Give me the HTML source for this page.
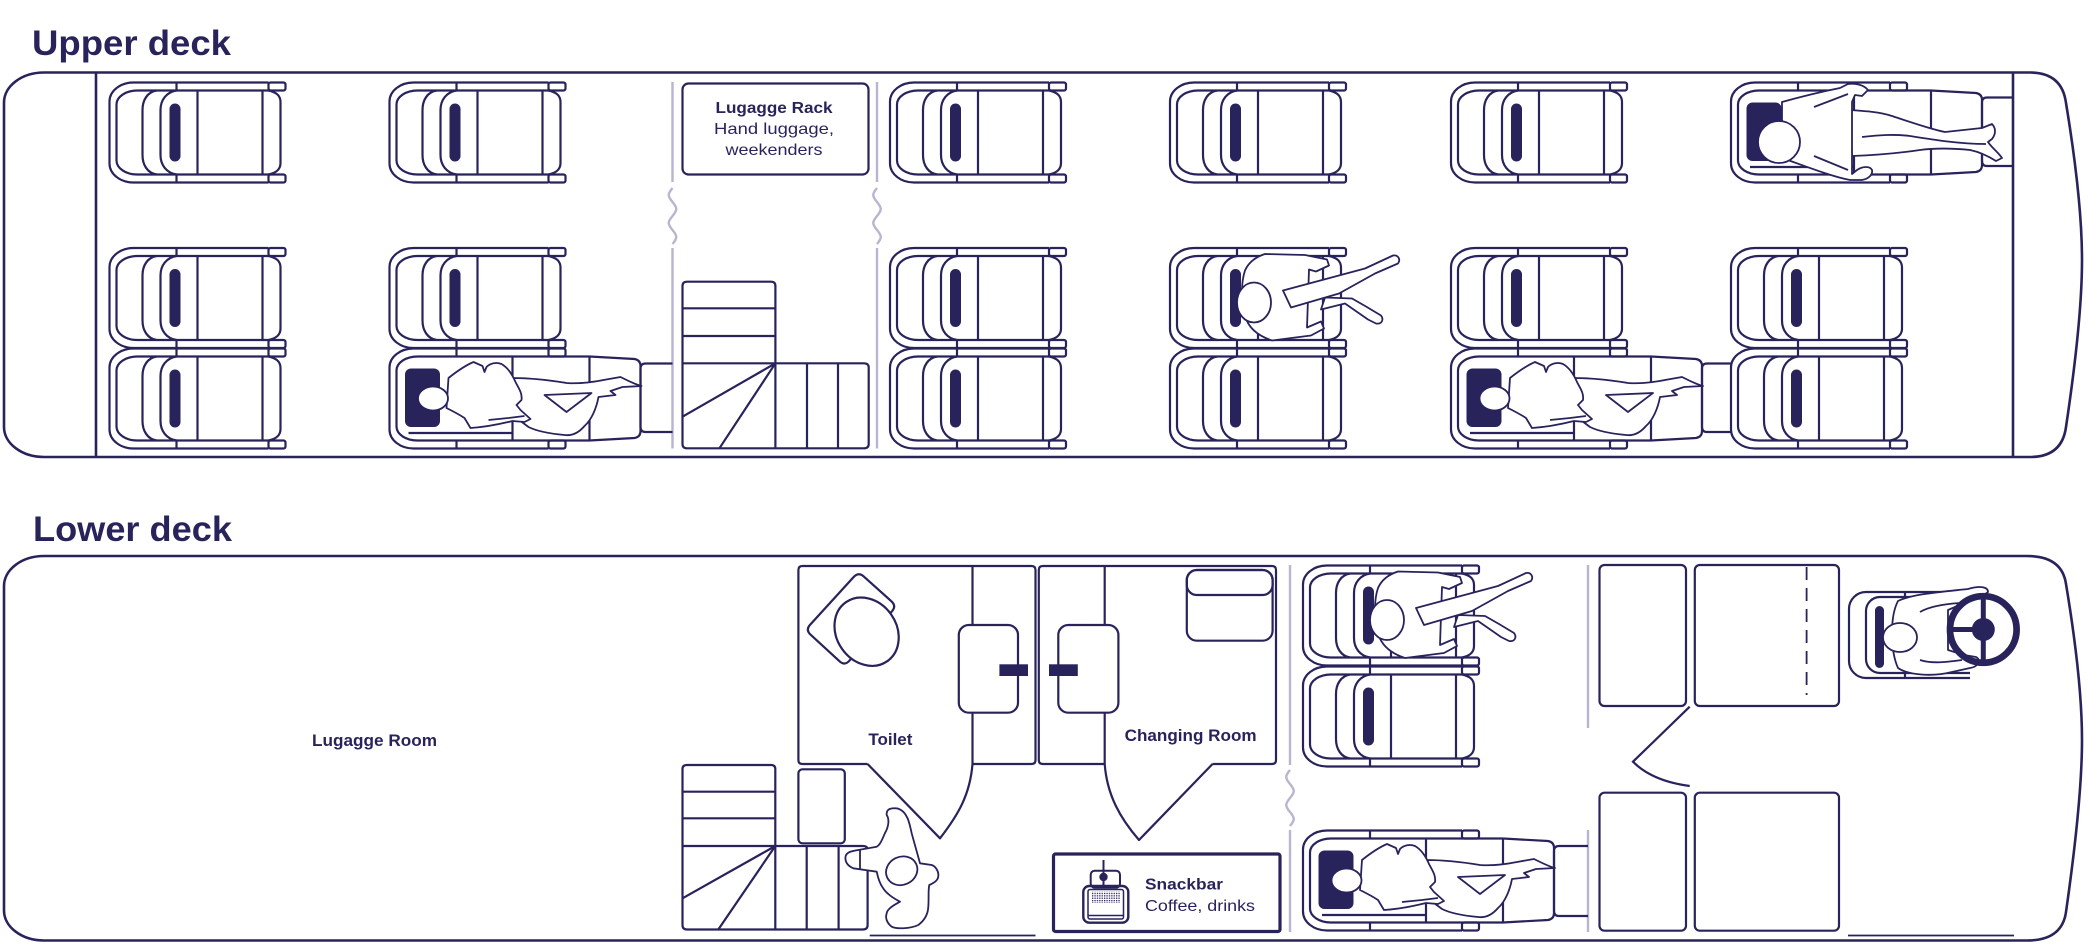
<!DOCTYPE html>
<html>
<head>
<meta charset="utf-8">
<style>
html,body{margin:0;padding:0;background:#fff;}
svg{display:block;}
text{font-family:"Liberation Sans",Arial,sans-serif;fill:#29235c;}
</style>
</head>
<body>
<svg width="2088" height="947" viewBox="0 0 2088 947" xmlns="http://www.w3.org/2000/svg">
<defs>
  <pattern id="grid" width="2.4" height="2.4" patternUnits="userSpaceOnUse">
    <rect width="2.4" height="2.4" fill="#fff"/>
    <rect width="1.3" height="1.3" fill="#29235c"/>
  </pattern>
  <g id="base">
    <path d="M160,0.5 H25 A24,19 0 0 0 1,19.5 V81.5 A24,19 0 0 0 25,100.5 H160"/>
    <rect x="160" y="0.5" width="17" height="8" rx="2"/>
    <rect x="160" y="92.5" width="17" height="8" rx="2"/>
    <line x1="68" y1="0.5" x2="68" y2="8.5"/>
    <line x1="68" y1="92.5" x2="68" y2="100.5"/>
  </g>
  <g id="seat">
    <use href="#base"/>
    <path d="M160,8.5 H29 A21,14 0 0 0 8,22.5 V78.5 A21,14 0 0 0 29,92.5 H160"/>
    <path d="M48,8.5 C39,10 34,18 34,28 V73 C34,83 39,91 48,92.5"/>
    <path d="M68,8.5 C58,10 52,18 52,28 V73 C52,83 58,91 68,92.5"/>
    <rect x="61" y="21.5" width="11" height="58" rx="5.5" fill="#29235c" stroke="none"/>
    <line x1="89" y1="8.5" x2="89" y2="92.5"/>
    <line x1="154" y1="8.5" x2="154" y2="92.5"/>
    <path d="M160,8.5 C167,10 172,13 172,20 V81 C172,88 167,91 160,92.5"/>
  </g>
  <g id="recl">
    <use href="#base"/>
    <path d="M201,8.5 H29 A21,14 0 0 0 8,22.5 V78.5 A21,14 0 0 0 29,92.5 H201"/>
    <line x1="124" y1="8.5" x2="124" y2="92.5"/>
    <line x1="201" y1="8.5" x2="201" y2="92.5"/>
    <path d="M201,8.5 L246,11 Q252,12 252,18 V83 Q252,89 246,90 L201,92.5"/>
    <path d="M20,85 H124"/>
    <rect x="16.5" y="20.5" width="35" height="58.5" rx="6" fill="#29235c" stroke="none"/>
  </g>
  <g id="curled">
    <path d="M124,30 C140,30 160,32 178,35 C192,36 205,34 215,32 L232,29 C240,33 248,37 253,38 L234,39 L222,43 L227,47 L210,49 C208,60 203,72 196,78 C190,85 183,88 176,87 C165,86 150,84 140,79 L128,70 Z"/>
    <path d="M156,47 L203,45 L178,64 Z"/>
    <path d="M60,30 C70,22 78,17 85,14 L94,18 L96,24 L98,19 C102,15 108,14 113,16 C120,20 124,27 127,34 C130,40 134,45 133,52 L128,57 L132,62 L142,71 L136,74 L124,73 C112,76 98,79 82,80 L76,70 C70,66 64,63 58,60 Z"/>
    <path d="M100,72 L120,70 L136,68" fill="none"/>
    <ellipse cx="44.5" cy="50.5" rx="15" ry="12"/>
  </g>
  <g id="straight">
    <path d="M120,28 C135,29 150,30 162,34 C180,40 200,47 215,50 L252,46 L262,42 C266,46 266,52 262,57 L258,60 C262,66 268,70 272,76 L266,79 C258,74 250,70 240,68 C220,66 205,66 190,68 C170,71 150,73 122,74 Z"/>
    <path d="M132,55 C150,53 165,52 180,54 C205,58 230,62 256,62" fill="none"/>
    <path d="M52,20 C70,15 90,10 110,6 L118,2 C126,1 134,3 138,8 L132,14 L125,13 L122,20 L122,92 L127,88 C133,84 140,84 142,88 C143,93 138,97 132,98 L120,98 C100,94 75,84 52,76 Z"/>
    <path d="M84,25 L118,12 M84,74 L118,88" fill="none"/>
    <ellipse cx="49" cy="60" rx="21" ry="21"/>
  </g>
  <g id="sitting">
    <path d="M96,6.5 L136,7.5 L158,12 L160,18 L147,24 L140,22 L138,80 L152,74 L155,81 L142,88 L103,93 C88,88 79,80 76,68 C72,52 72,35 76,23 C80,14 88,9 96,6.5 Z"/>
    <path d="M156,50 L183,51 L197,59 L212,68 C215,72 213,77 207,76 L199,72 L176,56 L152,62 Z"/>
    <path d="M114,43 L196,21 L224,8 C229,7 232,12 229,16 L206,26 L170,46 L122,60 Z"/>
    <ellipse cx="85" cy="55" rx="17" ry="20"/>
  </g>
</defs>

<!-- Titles -->
<text x="32" y="55" font-size="35" font-weight="bold" textLength="199" lengthAdjust="spacingAndGlyphs">Upper deck</text>
<text x="33" y="541" font-size="35" font-weight="bold" textLength="199" lengthAdjust="spacingAndGlyphs">Lower deck</text>

<!-- Bus outlines -->
<g fill="none" stroke="#29235c" stroke-width="2.6">
  <path d="M44,72.5 H2030 Q2062,72.5 2066,103 Q2082,200 2082,260 Q2082,320 2066,427 Q2062,457 2030,457 H44 A40,30 0 0 1 4,427 V102.5 A40,30 0 0 1 44,72.5 Z"/>
  <line x1="96" y1="72.5" x2="96" y2="457"/>
  <line x1="2013" y1="72.5" x2="2013" y2="457"/>
  <path d="M44,556 H2027 Q2062,556 2066,584 Q2082,680 2082,740 Q2082,800 2066,912 Q2062,940.5 2027,940.5 H44 A40,30 0 0 1 4,910.5 V586 A40,30 0 0 1 44,556 Z"/>
</g>

<!-- Lavender dividers -->
<g fill="none" stroke="#b7b5cf" stroke-width="2.4">
  <path d="M672.5,82 V182 M672.5,248 V448.5"/>
  <path d="M672.5,188 c-5,6 -5,8 0,14 c5,6 5,8 0,14 c-5,6 -5,8 0,14 c5,6 5,8 0,14"/>
  <path d="M877,82 V182 M877,248 V448.5"/>
  <path d="M877,188 c-5,6 -5,8 0,14 c5,6 5,8 0,14 c-5,6 -5,8 0,14 c5,6 5,8 0,14"/>
  <path d="M1290,565 V765 M1290,830 V932"/>
  <path d="M1290,770 c-5,6 -5,8 0,14 c5,6 5,8 0,14 c-5,6 -5,8 0,14 c5,6 5,8 0,14"/>
  <path d="M1588,565 V728 M1588,830 V932"/>
</g>

<!-- Upper deck seats -->
<g fill="none" stroke="#29235c" stroke-width="2.2">
  <use href="#seat" x="108.5" y="82"/>
  <use href="#seat" x="388.5" y="82"/>
  <use href="#seat" x="889" y="82"/>
  <use href="#seat" x="1169" y="82"/>
  <use href="#seat" x="1450" y="82"/>
  <use href="#recl" x="1730" y="82"/>
  <path d="M2013,97.5 H1987 Q1982,97.5 1982,102.5 V161 Q1982,166 1987,166 H2013"/>

  <use href="#seat" x="108.5" y="247.5"/>
  <use href="#seat" x="388.5" y="247.5"/>
  <use href="#seat" x="889" y="247.5"/>
  <use href="#seat" x="1169" y="247.5"/>
  <use href="#seat" x="1450" y="247.5"/>
  <use href="#seat" x="1730" y="247.5"/>

  <use href="#seat" x="108.5" y="348"/>
  <use href="#recl" x="388.5" y="348"/>
  <path d="M672.5,363.5 H645.5 Q640.5,363.5 640.5,368.5 V427 Q640.5,432 645.5,432 H672.5"/>
  <use href="#seat" x="889" y="348"/>
  <use href="#seat" x="1169" y="348"/>
  <use href="#recl" x="1450" y="348"/>
  <path d="M1731,363.5 H1707 Q1702,363.5 1702,368.5 V427 Q1702,432 1707,432 H1731"/>
  <use href="#seat" x="1730" y="348"/>

  <!-- Lower deck seats -->
  <use href="#seat" x="1302" y="565"/>
  <use href="#seat" x="1302" y="666"/>
  <use href="#recl" x="1302" y="830"/>
  <path d="M1588,846 H1559 Q1554,846 1554,851 V911 Q1554,916 1559,916 H1588"/>
</g>

<!-- People -->
<g fill="#fff" stroke="#29235c" stroke-width="1.8" stroke-linejoin="round">
  <use href="#straight" x="1730" y="82"/>
  <use href="#curled" x="388.5" y="348"/>
  <use href="#curled" x="1450" y="348"/>
  <use href="#curled" x="1302" y="830"/>
  <use href="#sitting" x="1169" y="247.5"/>
  <use href="#sitting" x="1302" y="565"/>
</g>

<!-- Luggage rack box -->
<rect x="682.5" y="83.5" width="186" height="91" rx="6" fill="none" stroke="#29235c" stroke-width="2.2"/>
<text x="774" y="113" font-size="16" font-weight="bold" text-anchor="middle" textLength="117" lengthAdjust="spacingAndGlyphs">Lugagge Rack</text>
<text x="774" y="134" font-size="16" text-anchor="middle" textLength="120" lengthAdjust="spacingAndGlyphs">Hand luggage,</text>
<text x="774" y="155" font-size="16" text-anchor="middle" textLength="97" lengthAdjust="spacingAndGlyphs">weekenders</text>

<!-- Stairs -->
<g fill="none" stroke="#29235c" stroke-width="2.2" stroke-linejoin="round">
  <path d="M775.4,363.3 V286 Q775.4,281.7 771,281.7 H687 Q682.5,281.7 682.5,286 V444 Q682.5,448.3 687,448.3 H864 Q868.7,448.3 868.7,444 V367.5 Q868.7,363.3 864,363.3 H775.4 V448.3"/>
  <path d="M682.5,308.3 H775.4 M682.5,336 H775.4 M682.5,363.3 H775.4 M807,363.3 V448.3 M838,363.3 V448.3 M775.4,363.3 L682.5,416.7 M775.4,363.3 L719.4,448.3"/>

  <path d="M775.3,846 V769 Q775.3,765 771,765 H687 Q682.5,765 682.5,769 V925 Q682.5,929.5 687,929.5 H863 Q867.6,929.5 867.6,925 V850 Q867.6,846 863,846 H775.3 V929.5"/>
  <path d="M682.5,791.7 H775.3 M682.5,818.3 H775.3 M682.5,846 H775.3 M806.7,846 V929.5 M838.6,846 V929.5 M775.3,846 L682.5,898.3 M775.3,846 L718.3,929.5"/>
  <rect x="798.4" y="769.3" width="46.4" height="74" rx="4"/>
</g>

<!-- Lower: Luggage room text -->
<text x="312" y="746" font-size="17" font-weight="bold" textLength="125" lengthAdjust="spacingAndGlyphs">Lugagge Room</text>

<!-- Toilet & changing room -->
<g fill="none" stroke="#29235c" stroke-width="2.2" stroke-linejoin="round">
  <path d="M867.6,764 H802.4 Q798.4,764 798.4,760 V570 Q798.4,566 802.4,566 H1031.5 Q1035.5,566 1035.5,570 V760 Q1035.5,764 1031.5,764 H972.5"/>
  <path d="M972.5,566 V625 M972.5,712.7 V764"/>
  <path d="M867.6,764 L940,838.3 C958,815 970,795 972.5,764"/>
  <rect x="958.8" y="625" width="59.2" height="87.7" rx="10"/>
  <path d="M1212.5,764 H1272 Q1276,764 1276,760 V570 Q1276,566 1272,566 H1042.8 Q1038.8,566 1038.8,570 V760 Q1038.8,764 1042.8,764 H1104.7"/>
  <path d="M1104.7,566 V625 M1104.7,712.7 V764"/>
  <path d="M1104.7,764 C1107,795 1120,818 1139,840 L1212.5,764"/>
  <rect x="1058.3" y="625" width="60.1" height="87.7" rx="10"/>
  <rect x="1186.8" y="570" width="85.8" height="70.7" rx="10"/>
  <rect x="1186.8" y="570" width="85.8" height="25" rx="10"/>
  <path fill="#fff" d="M863.7,576.4 L891.4,601.3 Q896.6,606 892,611.3 L849.4,660.7 Q844.8,666 839.6,661.3 L810.6,634.7 Q805.4,630 810.1,624.8 L853.8,576.9 Q858.5,571.7 863.7,576.4 Z"/>
  <ellipse cx="866.6" cy="631.7" rx="36" ry="30" transform="rotate(55 866.6 631.7)" fill="#fff"/>
</g>
<rect x="999.4" y="664.3" width="28.6" height="11.7" fill="#29235c"/>
<rect x="1049" y="664.3" width="28.8" height="11.7" fill="#29235c"/>
<text x="868.4" y="745" font-size="17" font-weight="bold" textLength="44" lengthAdjust="spacingAndGlyphs">Toilet</text>
<text x="1124.6" y="741" font-size="17" font-weight="bold" textLength="132" lengthAdjust="spacingAndGlyphs">Changing Room</text>

<!-- Standing person -->
<g fill="#fff" stroke="#29235c" stroke-width="1.8" stroke-linejoin="round">
  <path d="M886.7,815 C890,820 888,828 885,833 C882,840 880,845 876.7,846.7 L858.3,850 C852,851 846,852 845.5,857 C845,862 848,866 853.3,868.3 L865,870 L876.7,871.7 C878,878 880,884 883,888 C886,893 893,898 900,901.7 C894,905 887,909 886.7,913.3 C885,918 887,923 891.7,926.7 C896,929 910,929 918.3,925 C925,920 928,914 928.3,906.7 C929,898 928,890 929.3,885 C934,883 938.3,880 938.3,876 C939,871 935,866 931.7,865 L920,863.3 C917,852 914,842 911.7,833.3 C910,826 909,820 906.7,816.7 C904,811 899,808 895,808.3 C891,808 886,809 886.7,815 Z"/>
  <ellipse cx="901.7" cy="870.8" rx="16" ry="14" transform="rotate(-25 901.7 870.8)"/>
  <path d="M860,850 V870" fill="none"/>
</g>

<!-- Snackbar -->
<rect x="1053.5" y="854" width="226.5" height="77.5" rx="2" fill="none" stroke="#29235c" stroke-width="3.2"/>
<g fill="none" stroke="#29235c" stroke-width="2">
  <rect x="1090.7" y="870.7" width="29.3" height="17" rx="4"/>
  <line x1="1103.5" y1="860" x2="1103.5" y2="886"/>
  <rect x="1083.3" y="886" width="45" height="36.7" rx="6" stroke-width="2.4"/>
  <rect x="1088" y="889.5" width="35.5" height="29.5" rx="2" stroke-width="1.5"/>
  <line x1="1088" y1="915.5" x2="1123.5" y2="915.5" stroke-width="1.5"/>
</g>
<circle cx="1103.5" cy="877" r="4.2" fill="#29235c"/>
<rect x="1091" y="891.5" width="29.5" height="11.5" fill="url(#grid)"/>
<text x="1145" y="889.5" font-size="16" font-weight="bold" textLength="78" lengthAdjust="spacingAndGlyphs">Snackbar</text>
<text x="1145" y="911" font-size="16" textLength="110" lengthAdjust="spacingAndGlyphs">Coffee, drinks</text>

<!-- Front area -->
<g fill="none" stroke="#29235c" stroke-width="2.2">
  <rect x="1599.5" y="565" width="86.5" height="141" rx="5"/>
  <rect x="1694.8" y="565" width="144.2" height="141" rx="5"/>
  <line x1="1806.6" y1="567" x2="1806.6" y2="695" stroke-dasharray="13 8" stroke-width="1.8"/>
  <rect x="1599.5" y="792.7" width="86.5" height="138" rx="5"/>
  <rect x="1694.8" y="792.7" width="144.2" height="138" rx="5"/>
  <path d="M1689.7,706.7 L1633,761.7 Q1652,781 1689.7,786"/>
  <line x1="869.7" y1="935.5" x2="1035.5" y2="935.5" stroke-width="1.8"/>
  <line x1="1848" y1="935.5" x2="2014" y2="935.5" stroke-width="1.8"/>
</g>

<!-- Driver -->
<g fill="none" stroke="#29235c" stroke-width="2.2">
  <path d="M1970,592 H1866 A17,17 0 0 0 1849,609 V661 A17,17 0 0 0 1866,678 H1970"/>
  <path d="M1970,597 H1880 A14,14 0 0 0 1866,611 V659 A14,14 0 0 0 1880,673 H1970"/>
  <path d="M1905,592 V597 M1905,673 V678"/>
</g>
<rect x="1875" y="606" width="9" height="62" rx="4.5" fill="#29235c"/>
<g fill="#fff" stroke="#29235c" stroke-width="1.8" stroke-linejoin="round">
  <path d="M1898,601 C1912,594 1940,592 1968,589 C1978,586 1988,586 1988,592 L1980,598 L1962,604 L1948,610 L1948,650 L1964,655 L1976,657 C1982,660 1978,667 1970,668 L1952,672 C1932,677 1908,675 1898,668 C1890,650 1890,616 1898,601 Z"/>
  <path d="M1920,612 C1930,606 1945,604 1960,603 M1920,660 C1932,664 1948,662 1962,660" fill="none"/>
  <ellipse cx="1900" cy="637.5" rx="17" ry="14.5"/>
</g>
<g stroke="#29235c" fill="none">
  <circle cx="1983.3" cy="629.5" r="33.3" stroke-width="6.7"/>
  <line x1="1950" y1="629.5" x2="1983.3" y2="629.5" stroke-width="5"/>
  <line x1="1983.3" y1="596" x2="1983.3" y2="663" stroke-width="5"/>
</g>
<circle cx="1983.3" cy="629.5" r="11.5" fill="#29235c"/>

</svg>
</body>
</html>
